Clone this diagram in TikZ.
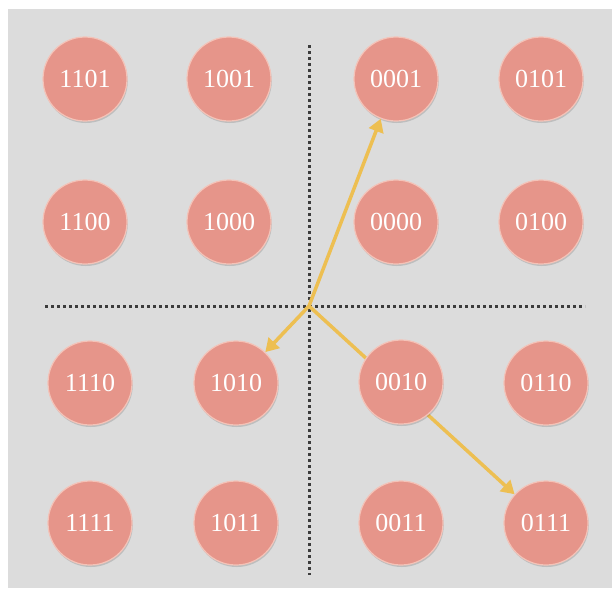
\documentclass[tikz,border=0pt]{standalone}
\usepackage{fontspec}
\setmainfont{Liberation Serif}
\usetikzlibrary{arrows.meta,shadows}
\definecolor{bggray}{HTML}{DCDCDC}
\definecolor{nodefill}{HTML}{E6958A}
\definecolor{nodeedge}{HTML}{F4C3B8}
\definecolor{arrowcol}{HTML}{EDBF52}
\definecolor{dotcol}{HTML}{3C3C3C}
\tikzset{
  qam/.style={circle, minimum size=84pt, inner sep=0pt, fill=nodefill, draw=nodeedge, line width=1.2pt,
    text=white, font=\fontsize{26}{26}\selectfont,
    drop shadow={shadow xshift=0.8pt, shadow yshift=-2pt, opacity=0.25, fill=black!60}},
  axisline/.style={dotcol, line width=3pt, dash pattern=on 3pt off 3pt},
  vec/.style={arrowcol, line width=3.5pt, -{Triangle[length=13pt,width=15pt]}}
}
\begin{document}
\begin{tikzpicture}[x=1pt,y=-1pt]
\useasboundingbox (0,0) rectangle (615,592);
\fill[white] (0,0) rectangle (615,592);
\fill[bggray] (8,9) rectangle (612,588);
% axes
\coordinate (top) at (309,45);
\coordinate (bot) at (309,575);
\coordinate (lft) at (45,306);
\coordinate (rgt) at (585,306);
\coordinate (o) at (309,306);
\draw[axisline] (top) -- (bot);
\draw[axisline] (lft) -- (rgt);
% nodes
\node[qam] (n1101) at (85,79) {1101};
\node[qam] (n1001) at (229,79) {1001};
\node[qam] (n0001) at (396,79) {0001};
\node[qam] (n0101) at (541,79) {0101};
\node[qam] (n1100) at (85,222) {1100};
\node[qam] (n1000) at (229,222) {1000};
\node[qam] (n0000) at (396,222) {0000};
\node[qam] (n0100) at (541,222) {0100};
\node[qam] (n1110) at (90,383) {1110};
\node[qam] (n1010) at (236,383) {1010};
\node[qam] (n0111) at (546,523) {0111};
\node[qam] (n0110) at (546,383) {0110};
\node[qam] (n1111) at (90,523) {1111};
\node[qam] (n1011) at (236,523) {1011};
\node[qam] (n0011) at (401,523) {0011};
% arrows
\draw[vec] (o) -- (n0001);
\draw[vec] (o) -- (n1010);
\draw[vec] (o) -- (n0111);
\node[qam] (n0010) at (401,382) {0010};
\end{tikzpicture}
\end{document}
